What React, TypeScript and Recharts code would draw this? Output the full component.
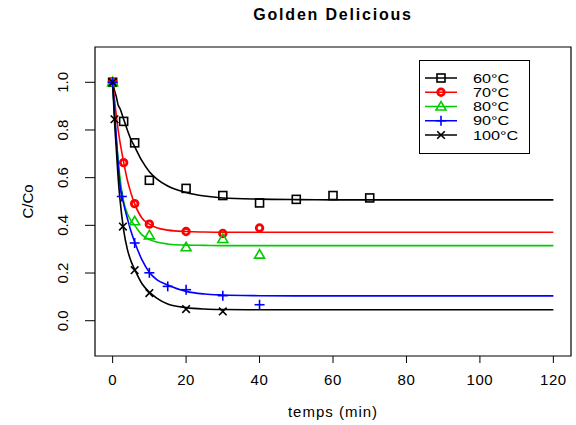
import React from 'react';
import {
  ComposedChart,
  Line,
  Scatter,
  XAxis,
  YAxis,
  ReferenceArea,
  Legend,
} from 'recharts';

const FONT = '"Liberation Sans", Arial, Helvetica, sans-serif';

// ---- Observed data (time in min, C/Co) ----
const obsT60 = [0, 3, 6, 10, 20, 30, 40, 50, 60, 70];
const obsV60 = [1.0, 0.836, 0.746, 0.589, 0.555, 0.525, 0.494, 0.509, 0.525, 0.515];
const obsT70 = [0, 3, 6, 10, 20, 30, 40];
const obsV70 = [1.0, 0.663, 0.491, 0.405, 0.374, 0.366, 0.389];
const obsT80 = [0, 6, 10, 20, 30, 40];
const obsV80 = [1.0, 0.417, 0.358, 0.308, 0.343, 0.277];
const obsT90 = [0, 2.5, 6, 10, 15, 20, 30, 40];
const obsV90 = [1.0, 0.521, 0.326, 0.201, 0.144, 0.13, 0.105, 0.067];
const obsT100 = [0, 0.5, 2.8, 6, 10, 20, 30];
const obsV100 = [1.0, 0.845, 0.395, 0.212, 0.116, 0.049, 0.039];

// ---- Fitted curves ----
const fitT = [0, 0.5, 1, 1.5, 2, 3, 4, 5, 6, 8, 10, 12, 15, 20, 25, 30, 40, 50, 60, 80, 100, 120];
const fitV60 = [1.0, 0.966, 0.94, 0.905, 0.89, 0.845, 0.8, 0.76, 0.73, 0.67, 0.625, 0.595, 0.565, 0.538, 0.523, 0.515, 0.51, 0.508, 0.507, 0.507, 0.507, 0.507];
const fitV70 = [1.0, 0.93, 0.86, 0.8, 0.75, 0.665, 0.59, 0.535, 0.49, 0.43, 0.405, 0.39, 0.38, 0.374, 0.372, 0.371, 0.371, 0.371, 0.371, 0.371, 0.371, 0.371];
const fitV80 = [1.0, 0.87, 0.76, 0.675, 0.6, 0.5, 0.45, 0.42, 0.4, 0.36, 0.34, 0.33, 0.322, 0.317, 0.316, 0.315, 0.315, 0.315, 0.315, 0.315, 0.315, 0.315];
const fitV90 = [1.0, 0.88, 0.77, 0.66, 0.57, 0.49, 0.43, 0.375, 0.33, 0.255, 0.203, 0.172, 0.15, 0.123, 0.112, 0.108, 0.105, 0.104, 0.104, 0.104, 0.104, 0.104];
const fitV100 = [1.0, 0.84, 0.72, 0.6, 0.51, 0.38, 0.3, 0.25, 0.215, 0.155, 0.12, 0.095, 0.07, 0.055, 0.049, 0.047, 0.046, 0.046, 0.046, 0.046, 0.046, 0.046];

const seriesNames = ['60°C', '70°C', '80°C', '90°C', '100°C'];
const seriesColors = ['#000000', '#ff0000', '#00cc00', '#0000ff', '#000000'];
const seriesShapes = ['square', 'circle', 'triangle', 'plus', 'cross'];

const xTicks = [0, 20, 40, 60, 80, 100, 120];
const yTicks = [0, 0.2, 0.4, 0.6, 0.8, 1.0];
const xDomain: [number, number] = [-4.8, 124.8];
const yDomain: [number, number] = [-0.148, 1.148];

const zip = (ts: number[], vs: number[]) => ts.map((t, i) => ({ t, v: vs[i] }));

const obsData = [
  zip(obsT60, obsV60),
  zip(obsT70, obsV70),
  zip(obsT80, obsV80),
  zip(obsT90, obsV90),
  zip(obsT100, obsV100),
];
const fitData = [fitV60, fitV70, fitV80, fitV90, fitV100].map((vs) => zip(fitT, vs));

function Marker({ kind, cx, cy, color }: { kind: string; cx: number; cy: number; color: string }) {
  if (cx == null || cy == null || isNaN(cx) || isNaN(cy)) return null;
  switch (kind) {
    case 'square':
      return <rect x={cx - 4} y={cy - 4} width={8} height={8} fill="none" stroke={color} strokeWidth={1.6} />;
    case 'circle':
      return <circle cx={cx} cy={cy} r={3.3} fill="none" stroke={color} strokeWidth={2.8} />;
    case 'triangle':
      return (
        <polygon
          points={`${cx - 5},${cy + 3.5} ${cx + 5},${cy + 3.5} ${cx},${cy - 5}`}
          fill="none"
          stroke={color}
          strokeWidth={1.6}
        />
      );
    case 'plus':
      return (
        <g stroke={color} strokeWidth={1.6}>
          <line x1={cx - 5} y1={cy} x2={cx + 5} y2={cy} />
          <line x1={cx} y1={cy - 5} x2={cx} y2={cy + 5} />
        </g>
      );
    case 'cross':
    default:
      return (
        <g stroke={color} strokeWidth={1.6}>
          <line x1={cx - 3.8} y1={cy - 3.8} x2={cx + 3.8} y2={cy + 3.8} />
          <line x1={cx - 3.8} y1={cy + 3.8} x2={cx + 3.8} y2={cy - 3.8} />
        </g>
      );
  }
}

const YTick = (props: any) => {
  const { x, y, payload } = props;
  const cx = x - 22;
  return (
    <text
      x={cx}
      y={y}
      transform={`rotate(-90 ${cx} ${y})`}
      textAnchor="middle"
      dominantBaseline="central"
      fontFamily={FONT}
      fontSize={15}
      fill="#000"
    >
      {Number(payload.value).toFixed(1)}
    </text>
  );
};

const XTick = (props: any) => {
  const { x, y, payload } = props;
  return (
    <text x={x} y={y + 22} textAnchor="middle" fontFamily={FONT} fontSize={15} fill="#000" letterSpacing={0.6}>
      {payload.value}
    </text>
  );
};

const LegendBox = () => {
  const rowH = 14.25;
  return (
    <svg width={111} height={94} style={{ display: 'block' }}>
      <rect x={0.5} y={0.5} width={110} height={93} fill="#fff" stroke="#000" strokeWidth={1} />
      {seriesNames.map((name, i) => {
        const yy = 18 + i * rowH;
        return (
          <g key={name}>
            <line x1={6} y1={yy} x2={38} y2={yy} stroke={seriesColors[i]} strokeWidth={1.5} />
            <Marker kind={seriesShapes[i]} cx={22} cy={yy} color={seriesColors[i]} />
            <text
              transform={`translate(54 ${yy + 4.5}) scale(1.3 1)`}
              x={0}
              y={0}
              fontFamily={FONT}
              fontSize={12.5}
              fill="#000"
            >
              {name}
            </text>
          </g>
        );
      })}
    </svg>
  );
};

export default function App() {
  return (
    <div style={{ position: 'absolute', left: 0, top: 0, width: 576, height: 425, background: '#fff', fontFamily: FONT }}>
      <div
        style={{
          position: 'absolute',
          left: 95,
          top: 5,
          width: 476,
          textAlign: 'center',
          fontFamily: FONT,
          fontWeight: 'bold',
          fontSize: 16,
          lineHeight: '20px',
          letterSpacing: 1.8,
          color: '#000',
        }}
      >
        Golden Delicious
      </div>
      <ComposedChart width={576} height={425} margin={{ top: 47, right: 5, bottom: 9, left: 0 }}>
        <XAxis
          type="number"
          dataKey="t"
          domain={xDomain}
          ticks={xTicks}
          allowDataOverflow
          axisLine={false}
          tickLine={{ stroke: '#000' }}
          tickSize={7}
          tickMargin={0}
          height={60}
          tick={<XTick />}
          interval={0}
          label={{
            value: 'temps (min)',
            content: (p: any) => {
              const vb = p.viewBox || { x: 95, y: 356, width: 476 };
              return (
                <text
                  x={vb.x + vb.width / 2}
                  y={vb.y + 61}
                  textAnchor="middle"
                  fontFamily={FONT}
                  fontSize={15}
                  letterSpacing={1}
                  fill="#000"
                >
                  temps (min)
                </text>
              );
            },
          }}
        />
        <YAxis
          type="number"
          dataKey="v"
          domain={yDomain}
          ticks={yTicks}
          allowDataOverflow
          axisLine={false}
          tickLine={{ stroke: '#000' }}
          tickSize={10}
          tickMargin={0}
          width={95}
          tick={<YTick />}
          interval={0}
          label={{
            value: 'C/Co',
            content: (p: any) => {
              const vb = p.viewBox || { x: 0, y: 47, width: 95, height: 309 };
              const cx = vb.x + 27;
              const cy = vb.y + vb.height / 2;
              return (
                <text
                  x={cx}
                  y={cy}
                  transform={`rotate(-90 ${cx} ${cy})`}
                  textAnchor="middle"
                  dominantBaseline="central"
                  fontFamily={FONT}
                  fontSize={15}
                  fill="#000"
                >
                  C/Co
                </text>
              );
            },
          }}
        />
        <ReferenceArea
          x1={xDomain[0]}
          x2={xDomain[1]}
          y1={yDomain[0]}
          y2={yDomain[1]}
          fill="none"
          fillOpacity={0}
          stroke="#000"
          strokeWidth={1.2}
          ifOverflow="visible"
        />
        {fitData.map((d, i) => (
          <Line
            key={'fit' + i}
            data={d}
            dataKey="v"
            type="monotone"
            stroke={seriesColors[i]}
            strokeWidth={1.6}
            dot={false}
            activeDot={false}
            isAnimationActive={false}
            legendType="none"
          />
        ))}
        {obsData.map((d, i) => (
          <Scatter
            key={'obs' + i}
            data={d}
            dataKey="v"
            isAnimationActive={false}
            legendType="none"
            shape={(p: any) => <Marker kind={seriesShapes[i]} cx={p.cx} cy={p.cy} color={seriesColors[i]} />}
          />
        ))}
        <Legend
          layout="vertical"
          align="center"
          verticalAlign="middle"
          wrapperStyle={{ position: 'absolute', left: 419, top: 60, width: 111, height: 94 }}
          content={() => <LegendBox />}
        />
      </ComposedChart>
    </div>
  );
}
